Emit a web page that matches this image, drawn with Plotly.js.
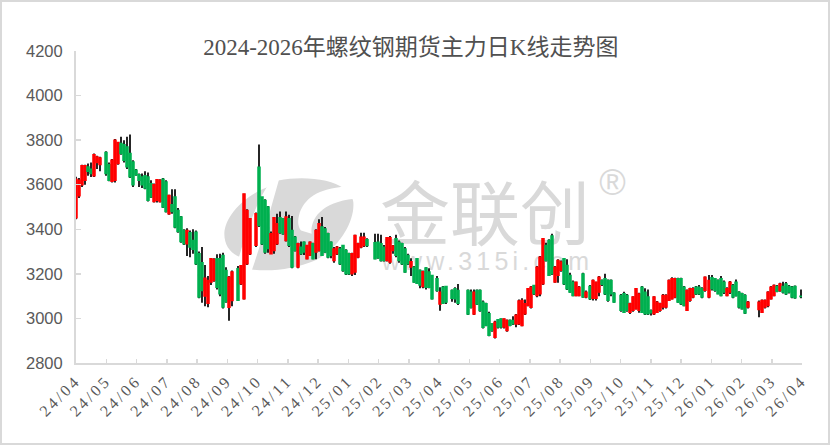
<!DOCTYPE html>
<html><head><meta charset="utf-8">
<script src="https://cdn.plot.ly/plotly-3.0.1.min.js"></script>
<style>
html,body{margin:0;padding:0;background:#fff}
#plot{width:830px;height:445px}
#frame{position:absolute;left:0;top:0;width:830px;height:445px;box-sizing:border-box;border:2px solid #d9d9d9;pointer-events:none}
.xtick text{letter-spacing:2.8px}
</style></head><body>
<div id="plot"></div><div id="frame"></div>
<script>
const titleText = "2024-2026年螺纹钢期货主力日K线走势图";
const tickLabels = ["24/04","24/05","24/06","24/07","24/08","24/09","24/10","24/11","24/12","25/01","25/02","25/03","25/04","25/05","25/06","25/07","25/08","25/09","25/10","25/11","25/12","26/01","26/02","26/03","26/04"];
const tradingPos = [
0,3,6,9,12,15,18,21,24,30,
33,36,39,42,45,48,51,54,57,60,
63,66,69,72,75,78,81,84,87,90,
93,96,99,102,105,108,111,114,117,120,
123,126,129,132,135,138,141,144,147,150,
153,156,162,165,168,171,174,180,183,186,
189,192,195,198,201,204,207,210,213,216,
219,222,225,228,231,234,237,240,243,246,
249,252,255,258,261,264,267,270,273,276,
279,282,285,288,291,299,302,305,308,311,
314,317,320,323,326,329,332,335,338,341,
344,347,350,353,356,361,364,367,370,376,
379,382,392,395,398,401,404,407,410,413,
416,419,422,425,428,431,434,437,440,443,
446,449,452,455,458,461,464,467,470,473,
476,479,482,485,488,491,494,497,500,503,
507,510,514,517,520,523,526,529,532,535,
538,545,548,551,554,557,560,563,566,569,
572,575,578,581,584,587,590,593,596,599,
602,605,608,611,614,617,620,623,626,629,
633,636,639,642,645,648,651,654,657,660,
663,666,669,672,683,686,689,692,695,698,
701,704,707,710,713,716,719,725];
const opens = [
3452,3550,3600,3620,3680,3670,3640,3700,3690,3745,
3690,3615,3620,3695,3785,3780,3770,3740,3702,3665,
3645,3635,3640,3635,3605,3525,3530,3525,3625,3612,
3470,3510,3545,3485,3455,3395,3335,3385,3350,3387,
3290,3250,3100,3068,3163,3170,3268,3268,3283,3215,
3050,3080,3223,3155,3088,3245,3290,3328,3679,3545,
3529,3500,3290,3305,3335,3452,3447,3350,3447,3395,
3365,3230,3320,3342,3268,3283,3335,3298,3305,3410,
3402,3380,3342,3260,3290,3312,3328,3305,3290,3200,
3208,3275,3320,3327,3353,3340,3342,3335,3320,3260,
3253,3305,3358,3342,3335,3312,3283,3230,3230,3268,
3215,3143,3227,3208,3193,3178,3065,3140,3143,3125,
3133,3125,3125,3118,3020,3125,3125,3073,3066,3021,
2976,2915,2994,2998,2961,2946,2991,2991,2975,2976,
2968,3021,3058,3050,3148,3103,3111,3155,3328,3350,
3370,3163,3193,3216,3268,3238,3193,3163,3103,3103,
3200,3096,3143,3090,3090,3118,3170,3178,3170,3170,
3113,3103,3111,3103,3028,3036,3043,3036,3140,3118,
3096,3035,3021,3028,3036,3051,3051,3081,3088,3096,
3178,3178,3140,3036,3081,3096,3140,3140,3133,3126,
3096,3183,3178,3170,3178,3163,3103,3118,3148,3163,
3118,3111,3103,3051,3040,3028,3051,3058,3088,3103,
3143,3125,3143,3155,3143,3140,3143,3100];
const closes = [
3625,3620,3685,3685,3660,3650,3735,3725,3720,3650,
3620,3710,3800,3790,3740,3710,3680,3635,3600,3645,
3620,3600,3585,3530,3545,3600,3622,3620,3500,3480,
3552,3480,3410,3390,3345,3335,3395,3320,3310,3245,
3096,3125,3180,3170,3268,3265,3140,3110,3051,3075,
3185,3208,3081,3237,3558,3485,3447,3470,3417,3335,
3298,3313,3380,3452,3425,3387,3380,3455,3328,3230,
3305,3335,3290,3298,3328,3342,3268,3395,3425,3283,
3298,3275,3283,3312,3320,3245,3215,3200,3200,3290,
3372,3335,3365,3365,3327,3268,3272,3260,3260,3362,
3362,3325,3283,3260,3245,3208,3245,3255,3163,3158,
3150,3210,3140,3140,3088,3125,3118,3068,3073,3090,
3088,3068,3020,3050,3118,3065,3035,2960,2969,2924,
2946,2983,2961,2961,2998,2991,2969,2976,3014,3078,
3081,3066,3133,3140,3111,3230,3275,3358,3260,3193,
3200,3230,3260,3253,3155,3133,3118,3103,3163,3140,
3096,3118,3088,3170,3163,3185,3153,3110,3081,3110,
3073,3036,3028,3036,3066,3096,3133,3110,3028,3021,
3021,3025,3096,3073,3066,3103,3103,3170,3178,3178,
3073,3066,3058,3125,3133,3133,3110,3110,3096,3185,
3170,3133,3126,3111,3103,3118,3133,3163,3096,3103,
3051,3043,3024,3073,3073,3081,3081,3118,3140,3148,
3122,3155,3118,3111,3118,3096,3093,3098];
const highs = [
3636,3630,3690,3690,3695,3700,3740,3730,3725,3750,
3700,3715,3805,3790,3815,3800,3815,3825,3710,3670,
3650,3650,3660,3655,3620,3605,3625,3625,3630,3620,
3555,3580,3580,3495,3460,3400,3405,3395,3400,3395,
3300,3320,3240,3190,3270,3270,3288,3290,3295,3230,
3190,3215,3235,3240,3560,3490,3450,3475,3780,3545,
3535,3505,3390,3455,3470,3480,3450,3480,3465,3460,
3370,3340,3345,3345,3330,3345,3340,3400,3445,3455,
3410,3385,3345,3320,3325,3320,3330,3310,3295,3295,
3375,3340,3385,3385,3360,3380,3380,3375,3330,3365,
3370,3330,3375,3350,3340,3320,3290,3270,3235,3270,
3220,3215,3230,3225,3195,3190,3140,3145,3145,3130,
3140,3155,3130,3130,3130,3130,3130,3080,3070,3030,
2980,2990,2995,3000,3000,2995,2995,3010,3020,3085,
3090,3085,3135,3145,3150,3235,3280,3360,3340,3355,
3380,3235,3265,3260,3270,3265,3205,3170,3165,3145,
3205,3125,3150,3175,3165,3190,3175,3200,3175,3175,
3118,3110,3120,3110,3070,3100,3135,3115,3145,3135,
3130,3040,3100,3078,3070,3110,3108,3175,3185,3182,
3182,3182,3145,3130,3138,3140,3145,3150,3140,3188,
3195,3195,3180,3175,3190,3170,3140,3168,3155,3175,
3122,3115,3108,3078,3080,3085,3085,3122,3145,3152,
3150,3160,3165,3163,3150,3145,3148,3130];
const lows = [
3445,3540,3590,3600,3640,3635,3635,3670,3660,3640,
3615,3610,3610,3690,3735,3700,3670,3630,3590,3640,
3590,3585,3580,3525,3540,3520,3520,3520,3495,3475,
3465,3470,3405,3385,3340,3330,3280,3275,3290,3240,
3090,3070,3055,3050,3150,3165,3130,3100,3045,3070,
2990,3055,3078,3150,3085,3240,3285,3320,3410,3330,
3290,3295,3290,3290,3330,3380,3375,3345,3320,3225,
3300,3225,3285,3285,3265,3280,3265,3265,3300,3280,
3295,3270,3270,3250,3285,3240,3210,3195,3195,3190,
3195,3270,3315,3320,3320,3265,3268,3255,3255,3255,
3245,3290,3275,3250,3240,3205,3240,3190,3160,3155,
3135,3135,3130,3135,3085,3120,3035,3065,3065,3075,
3070,3060,3015,3045,3015,3060,3030,2955,2965,2920,
2940,2910,2955,2955,2955,2940,2965,2970,2960,2970,
2965,3015,3055,3045,3105,3095,3100,3150,3255,3190,
3195,3160,3160,3210,3150,3128,3115,3100,3100,3100,
3093,3090,3083,3080,3080,3100,3145,3105,3075,3100,
3070,3030,3025,3030,3020,3030,3040,3025,3025,3015,
3015,3013,3015,3025,3030,3040,3045,3078,3085,3090,
3070,3060,3055,3035,3075,3090,3105,3105,3090,3120,
3090,3125,3120,3108,3100,3110,3100,3110,3090,3098,
3045,3040,3020,3045,3005,3025,3045,3050,3085,3100,
3118,3120,3112,3105,3112,3090,3088,3090];

const GREY = "#d9d9d9", TXT = "#595959";
// watermark helpers: page pixel -> axis units
const ax = p => p - 76;
const ay = p => 3000 + (318 - p) / 0.2229;
const z = (zx, zy) => `${ax(215 + zx / 3)},${ay(165 + zy / 3)}`;
const logoOuter = `M${z(190,45)} C${z(260,30)} ${z(350,40)} ${z(385,68)} C${z(400,80)} ${z(412,92)} ${z(415,110)} C${z(420,170)} ${z(370,250)} ${z(300,285)} C${z(240,310)} ${z(170,320)} ${z(110,312)} L${z(75,275)} C${z(45,262)} ${z(28,240)} ${z(28,205)} C${z(30,150)} ${z(90,90)} ${z(158,65)} Z`;
const logoBand = `M${z(158,60)} L${z(192,42)} C${z(170,120)} ${z(140,230)} ${z(110,316)} L${z(70,282)} C${z(90,210)} ${z(120,120)} ${z(158,60)} Z`;
const logoArc = `M${z(392,64)} C${z(310,68)} ${z(265,100)} ${z(252,150)} C${z(247,170)} ${z(250,185)} ${z(258,195)} L${z(290,205)} C${z(285,160)} ${z(320,110)} ${z(418,100)} Z`;
const wmLabel = (x0, x1, y0, y1, text, size, family) => ({
  type: "rect", xref: "x", yref: "y", layer: "below",
  x0: ax(x0), x1: ax(x1), y0: ay(y1), y1: ay(y0),
  line: {width: 0}, fillcolor: "rgba(0,0,0,0)",
  label: {text, textposition: "middle center", font: {size, family, color: GREY}}
});
const bodyHi = opens.map((o, i) => Math.max(o, closes[i]));
const bodyLo = opens.map((o, i) => Math.min(o, closes[i]));
const bodyMid = opens.map((o, i) => (o + closes[i]) / 2);

const data = [
  // black wicks, collapsed body hidden behind the coloured one
  {type: "candlestick", x: tradingPos, open: bodyMid, close: bodyMid, high: highs, low: lows,
   increasing: {line: {color: "#000000", width: 1.7}, fillcolor: "#000000"},
   decreasing: {line: {color: "#000000", width: 1.7}, fillcolor: "#000000"},
   whiskerwidth: 0, showlegend: false},
  {type: "candlestick", x: tradingPos, open: opens, close: closes, high: bodyHi, low: bodyLo,
   increasing: {line: {color: "#FF0000", width: 1.4}, fillcolor: "#FF0000"},
   decreasing: {line: {color: "#00B050", width: 1.4}, fillcolor: "#00B050"},
   whiskerwidth: 0, showlegend: false}
];
const layout = {
  width: 830, height: 445, autosize: false,
  margin: {l: 76, r: 28, t: 51, b: 82, pad: 0},
  paper_bgcolor: "#fff", plot_bgcolor: "rgba(0,0,0,0)", showlegend: false,
  boxgap: 0,
  title: {text: titleText, xref: "container", yref: "container", x: 0.495, y: 0.895, xanchor: "center", yanchor: "middle",
          font: {family: "'Liberation Serif','Noto Sans CJK SC',serif", size: 23, color: "#505050"}},
  xaxis: {range: [0, 726], type: "linear", tickmode: "array",
          tickvals: tickLabels.map((_, i) => i * 30.25), ticktext: tickLabels,
          tickangle: -45, ticks: "inside", ticklen: 4, tickcolor: GREY, tickwidth: 1.5,
          showline: true, linecolor: GREY, linewidth: 2, showgrid: false, zeroline: false,
          rangeslider: {visible: false},
          tickfont: {family: "'Liberation Serif',serif", size: 16, color: TXT}},
  yaxis: {range: [2800, 4200], tick0: 2800, dtick: 200, ticks: "inside", ticklen: 5, tickcolor: GREY, tickwidth: 1.5,
          showline: true, linecolor: GREY, linewidth: 2, showgrid: false, zeroline: false, ticklabelstandoff: 8,
          tickformat: "d", tickfont: {family: "'Liberation Sans',Arial,sans-serif", size: 16.5, color: TXT}},
  shapes: [
    {type: "path", xref: "x", yref: "y", layer: "below", path: logoOuter, fillcolor: GREY, line: {width: 0}},
    {type: "path", xref: "x", yref: "y", layer: "below", path: logoBand, fillcolor: "#fff", line: {width: 0}},
    {type: "path", xref: "x", yref: "y", layer: "below", path: logoArc, fillcolor: "#fff", line: {width: 0}},
    wmLabel(375, 595, 187, 254, "金联创", 70, "'Noto Sans CJK SC',sans-serif"),
    wmLabel(375, 600, 245, 272, "www.315i.com", 25, "'Liberation Sans',Arial,sans-serif"),
    wmLabel(595, 630, 160, 198, "®", 36, "'Liberation Sans',Arial,sans-serif")
  ]
};
Plotly.newPlot("plot", data, layout, {displayModeBar: false, staticPlot: true}).then(() => {
  document.querySelectorAll(".shapelayer text").forEach(t => {
    if (t.textContent.startsWith("www")) t.style.letterSpacing = "4.2px";
  });
});
</script></body></html>
